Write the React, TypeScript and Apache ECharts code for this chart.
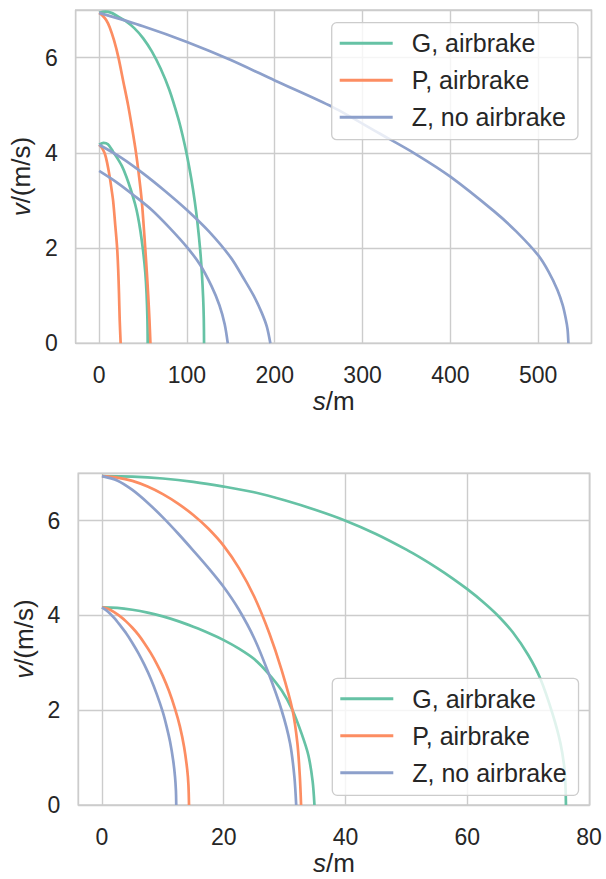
import React, { useEffect, useRef } from "react";
import * as echarts from "echarts";

// ---------- data (s in m, v in m/s) ----------
const SERIES_NAMES = ["G, airbrake", "P, airbrake", "Z, no airbrake"];
const COLORS = ["#66c2a5", "#fc8d62", "#8da0cb"];

// top panel
const TOP_G_HIGH = [[0,6.94],[7,6.965],[14,6.94],[20,6.88],[30,6.77],[40,6.62],[50,6.41],[60,6.13],[70,5.77],[80,5.32],[90,4.73],[95,4.37],[100,3.95],[105,3.45],[109,2.97],[112,2.53],[115,1.98],[117,1.48],[118.5,0.94],[119.2,0.51],[119.5,0]];
const TOP_G_LOW = [[0,4.17],[5,4.21],[10,4.18],[16,4.02],[21,3.88],[26,3.72],[31,3.5],[36,3.23],[41,2.92],[44,2.68],[47,2.36],[50,1.95],[52.5,1.5],[54,1.05],[55,0.5],[55.3,0]];
const TOP_P_HIGH = [[0,6.94],[4,6.88],[8,6.79],[12,6.64],[17,6.36],[22,6.0],[27.5,5.5],[33,5.0],[37.7,4.5],[42,4.0],[45.5,3.5],[48.5,3.0],[50.6,2.5],[52.5,2.0],[54.3,1.5],[55.9,1.0],[57.3,0.5],[58.4,0]];
const TOP_P_LOW = [[0,4.17],[2,4.13],[4,4.08],[6.5,3.98],[9,3.8],[12,3.5],[14,3.25],[16,2.98],[18.5,2.45],[20.5,2.0],[21.7,1.55],[22.6,1.05],[23.4,0.5],[24.5,0]];
const TOP_Z_HIGH = [[0,6.94],[50,6.66],[100,6.33],[150,5.95],[200,5.52],[266,4.96],[320,4.4],[360,3.98],[400,3.5],[450,2.77],[475,2.35],[500,1.85],[512,1.5],[522,1.12],[528,0.8],[531.5,0.52],[533.5,0.3],[534.5,0]];
const TOP_Z_MID = [[0,4.17],[25,3.9],[50,3.57],[75,3.2],[100,2.8],[125,2.35],[150,1.8],[165,1.35],[176,1.0],[185,0.65],[191,0.35],[195,0]];
const TOP_Z_LOW = [[0,3.62],[20,3.38],[40,3.1],[60,2.8],[80,2.43],[100,2.02],[115,1.65],[128,1.2],[137,0.8],[143,0.4],[146.5,0]];

// bottom panel
const BOT_G_HIGH = [[0,6.94],[5,6.93],[10,6.89],[15,6.82],[20,6.72],[25,6.6],[30,6.43],[35,6.23],[40,6.0],[45,5.72],[50,5.39],[52.5,5.205],[55,5.005],[57.5,4.79],[60,4.555],[62.5,4.295],[65,4.0],[67.5,3.64],[70,3.165],[72,2.665],[74,1.925],[75.3,1.3],[76,0.7],[76.2,0]];
const BOT_G_LOW = [[0,4.17],[2.5,4.16],[5,4.12],[7.5,4.06],[10,3.98],[12.5,3.88],[15,3.76],[17.5,3.63],[20,3.48],[22.5,3.3],[25,3.08],[27.3,2.78],[29.5,2.42],[31.3,2.0],[32.8,1.5],[33.9,1.05],[34.6,0.5],[34.9,0]];
const BOT_P_HIGH = [[0,6.94],[2.5,6.91],[5,6.84],[7.5,6.72],[10,6.56],[12.5,6.36],[15,6.12],[17.5,5.83],[20,5.47],[22.5,5.0],[25,4.4],[27.5,3.62],[29.5,2.85],[31.3,2.0],[32.1,1.3],[32.5,0.6],[32.7,0]];
const BOT_P_LOW = [[0,4.17],[1,4.14],[2,4.07],[3,3.98],[4,3.87],[5,3.74],[6,3.59],[7,3.41],[8,3.21],[9,2.98],[10,2.72],[11,2.41],[12,2.03],[12.8,1.66],[13.5,1.22],[14,0.75],[14.2,0.43],[14.3,0]];
const BOT_Z_HIGH = [[0,6.94],[2.5,6.85],[5,6.65],[7.5,6.38],[10,6.07],[12.5,5.73],[15,5.37],[17.5,5.0],[20,4.6],[22.5,4.12],[25,3.52],[27.3,2.8],[29.5,2.0],[30.9,1.3],[31.6,0.6],[31.9,0]];
const BOT_Z_LOW = [[0,4.17],[1,4.08],[2,3.95],[3,3.79],[4,3.62],[5,3.42],[6,3.2],[7,2.95],[8,2.67],[9,2.34],[10,1.96],[10.6,1.67],[11.2,1.33],[11.7,0.94],[12.0,0.6],[12.15,0.3],[12.2,0]];

const TOP_X_RANGE = [-26.7, 560.8];
const BOT_X_RANGE = [-3.9, 80.1];
const Y_RANGE = [0, 7];

const FONT = "'Liberation Sans', Arial, sans-serif";
const TEXT = "#262626";
const GRIDC = "#cccccc";

function line(name: string, data: number[][], color: string, idx: number) {
  return {
    type: "line",
    name,
    data,
    xAxisIndex: idx,
    yAxisIndex: idx,
    showSymbol: false,
    symbol: "none",
    smooth: 0.3,
    color,
    lineStyle: { width: 2.7, color },
    clip: true,
    z: 2,
  };
}

function xAxis(idx: number, range: number[]) {
  return {
    type: "value",
    gridIndex: idx,
    min: range[0],
    max: range[1],
    splitNumber: 5,
    name: "{i|s}/m",
    nameLocation: "middle",
    nameGap: 45,
    nameTextStyle: {
      fontSize: 26,
      color: TEXT,
      fontFamily: FONT,
      rich: { i: { fontStyle: "italic", fontSize: 26, color: TEXT, fontFamily: FONT } },
    },
    axisLine: { show: false },
    axisTick: { show: false },
    axisLabel: {
      showMinLabel: false,
      showMaxLabel: false,
      margin: 20,
      fontSize: 23,
      color: TEXT,
      fontFamily: FONT,
    },
    splitLine: { show: true, lineStyle: { color: GRIDC, width: 1.4 } },
  };
}

function yAxis(idx: number) {
  return {
    type: "value",
    gridIndex: idx,
    min: Y_RANGE[0],
    max: Y_RANGE[1],
    interval: 2,
    name: "{i|v}/(m/s)",
    nameLocation: "middle",
    nameGap: 38,
    nameRotate: 90,
    nameTextStyle: {
      fontSize: 26,
      color: TEXT,
      fontFamily: FONT,
      rich: { i: { fontStyle: "italic", fontSize: 26, color: TEXT, fontFamily: FONT } },
    },
    axisLine: { show: false },
    axisTick: { show: false },
    axisLabel: {
      showMaxLabel: false,
      margin: 18,
      fontSize: 23,
      color: TEXT,
      fontFamily: FONT,
    },
    splitLine: { show: true, lineStyle: { color: GRIDC, width: 1.4 } },
  };
}

function legend(left: number, top: number) {
  return {
    orient: "vertical",
    left,
    top,
    data: SERIES_NAMES,
    icon: "rect",
    itemWidth: 53,
    itemHeight: 3,
    itemGap: 12,
    padding: [8, 12, 10, 8],
    backgroundColor: "rgba(255,255,255,0.8)",
    borderColor: GRIDC,
    borderWidth: 1.3,
    borderRadius: 5,
    selectedMode: false,
    textStyle: {
      fontSize: 25,
      lineHeight: 24,
      color: TEXT,
      fontFamily: FONT,
      padding: [0, 0, 0, 14],
    },
  };
}

export default function App() {
  const ref = useRef<HTMLDivElement>(null);
  useEffect(() => {
    if (!ref.current) return;
    const chart = echarts.init(ref.current, null, { renderer: "svg" });
    chart.setOption({
      animation: false,
      backgroundColor: "#ffffff",
      textStyle: { fontFamily: FONT },
      grid: [
        { left: 75.7, top: 10, width: 515.8, height: 333.3, show: true, borderColor: GRIDC, borderWidth: 1.4, backgroundColor: "transparent" },
        { left: 78.2, top: 473.3, width: 511.5, height: 331.7, show: true, borderColor: GRIDC, borderWidth: 1.4, backgroundColor: "transparent" },
      ],
      xAxis: [xAxis(0, TOP_X_RANGE), xAxis(1, BOT_X_RANGE)],
      yAxis: [yAxis(0), yAxis(1)],
      legend: [legend(331.7, 22.7), legend(332.3, 678.3)],
      series: [
        line(SERIES_NAMES[0], TOP_G_HIGH, COLORS[0], 0),
        line(SERIES_NAMES[0], TOP_G_LOW, COLORS[0], 0),
        line(SERIES_NAMES[1], TOP_P_HIGH, COLORS[1], 0),
        line(SERIES_NAMES[1], TOP_P_LOW, COLORS[1], 0),
        line(SERIES_NAMES[2], TOP_Z_HIGH, COLORS[2], 0),
        line(SERIES_NAMES[2], TOP_Z_MID, COLORS[2], 0),
        line(SERIES_NAMES[2], TOP_Z_LOW, COLORS[2], 0),
        line(SERIES_NAMES[0], BOT_G_HIGH, COLORS[0], 1),
        line(SERIES_NAMES[0], BOT_G_LOW, COLORS[0], 1),
        line(SERIES_NAMES[1], BOT_P_HIGH, COLORS[1], 1),
        line(SERIES_NAMES[1], BOT_P_LOW, COLORS[1], 1),
        line(SERIES_NAMES[2], BOT_Z_HIGH, COLORS[2], 1),
        line(SERIES_NAMES[2], BOT_Z_LOW, COLORS[2], 1),
      ],
    });
    return () => chart.dispose();
  }, []);
  return (
    <div
      ref={ref}
      style={{ position: "absolute", left: 0, top: 0, width: 606, height: 879, background: "#fff" }}
    />
  );
}
